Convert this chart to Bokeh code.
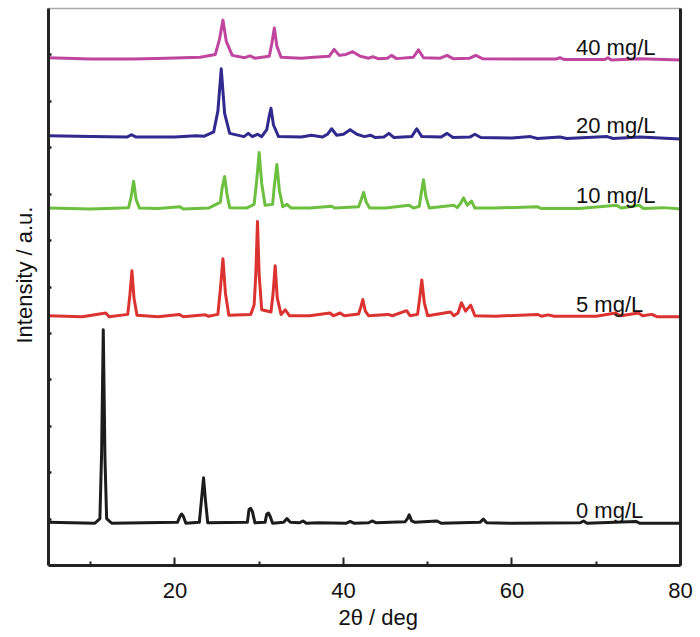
import numpy as np
from bokeh.plotting import figure
from bokeh.models import FixedTicker, LinearAxis, CustomJSTickFormatter, ColumnDataSource, Title
from bokeh.core.properties import value
from bokeh.embed import file_html
from bokeh.resources import INLINE

# ---------------- data ----------------
series_names = ["0 mg/L", "5 mg/L", "10 mg/L", "20 mg/L", "40 mg/L"]
series_colors = ["#1c1c1c", "#db3330", "#6cbf3f", "#30298e", "#c0459f"]
series_offsets = [0.91, 5.36, 7.68, 9.19, 10.89]

x_0 = [5, 10.5, 11.1, 11.3, 11.5, 11.7, 11.9, 12.5, 20.3, 20.6, 20.8, 21.0, 21.3, 22.9, 23.15, 23.4,
       23.65, 23.9, 28.6, 28.8, 29.0, 29.2, 29.5, 30.7, 30.9, 31.1, 31.3, 31.6, 32.9, 33.3, 33.7, 34.8,
       35.2, 35.6, 37, 40.3, 40.8, 41.3, 43, 43.4, 43.9, 47.3, 47.6, 47.8, 48.1, 48.5, 51.1, 51.6, 56.2,
       56.6, 57, 60, 68.1, 68.5, 68.9, 74.7, 75.2, 80]
y_0 = [0.02, 0.0, 0.1, 1.5, 4.17, 1.4, 0.1, 0.0, 0.02, 0.15, 0.2, 0.15, 0.0, 0.02, 0.5, 0.98,
       0.45, 0.01, 0.02, 0.3, 0.32, 0.25, 0.01, 0.02, 0.2, 0.22, 0.15, 0.0, 0.02, 0.1, 0.02, 0.01,
       0.05, 0.0, 0.01, 0.0, 0.04, 0.0, 0.01, 0.05, 0.01, 0.03, 0.1, 0.18, 0.05, 0.02, 0.05, 0.0, 0.02,
       0.09, 0.01, 0.0, 0.01, 0.05, 0.0, 0.04, 0.0, 0.0]

x_5 = [5, 9, 11.8, 12.2, 14.4, 14.65, 14.9, 15.15, 15.5, 18, 20.5, 21, 23.6, 24, 25.1, 25.4, 25.7,
       26.0, 26.4, 29, 29.4, 29.6, 29.8, 30.0, 30.3, 31.4, 31.65, 31.9, 32.15, 32.6, 33.1, 33.6, 36,
       38.4, 38.8, 39.6, 40.1, 41.8, 42.05, 42.3, 42.6, 43, 45.3, 45.8, 47.5, 47.9, 48.8, 49.05, 49.3,
       49.6, 50.0, 52.7, 53.1, 53.6, 54.0, 54.5, 55.1, 55.6, 58, 63, 63.5, 64.3, 65, 70, 72.3, 72.9,
       75.0, 75.5, 76.6, 77.2, 80]
y_5 = [0.02, 0.0, 0.08, 0.0, 0.05, 0.45, 0.99, 0.4, 0.03, 0.0, 0.05, 0.0, 0.04, 0.01, 0.05, 0.6, 1.25,
       0.5, 0.03, 0.05, 0.25, 0.9, 2.05, 0.9, 0.15, 0.1, 0.5, 1.1, 0.4, 0.05, 0.15, 0.02, 0.02,
       0.08, 0.02, 0.08, 0.02, 0.06, 0.2, 0.37, 0.12, 0.02, 0.05, 0.02, 0.13, 0.02, 0.05, 0.4, 0.79,
       0.3, 0.02, 0.1, 0.02, 0.08, 0.3, 0.12, 0.25, 0.02, 0.01, 0.05, 0.01, 0.04, 0.01, 0.01, 0.08, 0.02,
       0.08, 0.02, 0.05, 0.0, 0.0]

x_10 = [5, 10, 14.5, 14.8, 15.1, 15.4, 15.8, 18, 20.6, 21, 24, 25.4, 25.6, 25.9, 26.2, 26.5, 28.5,
        29.4, 29.7, 30.0, 30.3, 30.7, 31.6, 31.8, 32.1, 32.4, 32.8, 33.3, 33.8, 36, 38.6, 39, 41.8,
        42.1, 42.4, 42.7, 43.1, 45, 47.8, 48.3, 49, 49.2, 49.5, 49.8, 50.2, 53.1, 53.5, 53.9, 54.25,
        54.7, 55.2, 55.6, 58, 63, 63.5, 68, 72.4, 73, 75.1, 75.6, 78, 80]
y_10 = [0.02, 0.0, 0.03, 0.25, 0.6, 0.2, 0.02, 0.01, 0.05, 0.0, 0.02, 0.15, 0.45, 0.7, 0.3, 0.03, 0.02,
        0.1, 0.6, 1.22, 0.55, 0.08, 0.1, 0.5, 0.96, 0.4, 0.05, 0.1, 0.02, 0.02, 0.06, 0.02, 0.05,
        0.2, 0.36, 0.15, 0.02, 0.02, 0.08, 0.02, 0.06, 0.3, 0.63, 0.25, 0.02, 0.08, 0.03, 0.12, 0.24,
        0.08, 0.17, 0.02, 0.02, 0.05, 0.01, 0.01, 0.08, 0.02, 0.08, 0.01, 0.03, 0.0]

x_20 = [5, 10, 14.3, 14.85, 15.4, 20, 22.5, 23.5, 24.6, 25.1, 25.5, 25.9, 26.5, 28.2, 28.7, 29.2, 29.8,
        30.3, 30.9, 31.2, 31.4, 31.7, 32.3, 35, 36.2, 37.5, 38.1, 38.6, 39.2, 40, 40.8, 41.6, 42.5,
        43.2, 43.8, 44.8, 45.4, 46, 48.1, 48.7, 49.3, 51.6, 52.3, 53, 55, 55.6, 56.3, 60, 62.2, 63,
        65.7, 66.5, 71.3, 72, 75.2, 80]
y_20 = [0.07, 0.05, 0.04, 0.09, 0.04, 0.04, 0.07, 0.06, 0.15, 0.6, 1.51, 0.55, 0.12, 0.05, 0.12, 0.05, 0.1,
        0.05, 0.2, 0.5, 0.66, 0.3, 0.05, 0.04, 0.08, 0.04, 0.1, 0.22, 0.08, 0.1, 0.2, 0.1, 0.05,
        0.08, 0.03, 0.04, 0.12, 0.03, 0.05, 0.22, 0.05, 0.04, 0.12, 0.03, 0.04, 0.1, 0.03, 0.02, 0.05, 0.01,
        0.04, 0.01, 0.05, 0.01, 0.04, 0.0]

x_40 = [5, 10, 15, 19, 21, 23, 24.8, 25.3, 25.7, 26.1, 26.8, 28.3, 28.9, 29.5, 31.2, 31.5, 31.8, 32.1,
        32.6, 35, 36.5, 38.3, 38.9, 39.5, 40.3, 41.1, 42, 43, 43.5, 44.1, 45.2, 45.7, 46.3, 48.3, 48.9,
        49.5, 51.5, 52.3, 53, 55, 55.7, 56.5, 60, 62, 65.2, 65.7, 66.2, 71, 71.4, 71.8, 75.2, 80]
y_40 = [0.05, 0.02, 0.02, 0.04, 0.05, 0.06, 0.12, 0.45, 0.86, 0.4, 0.1, 0.05, 0.09, 0.04, 0.08, 0.35, 0.69, 0.3,
        0.06, 0.04, 0.06, 0.08, 0.23, 0.1, 0.12, 0.18, 0.08, 0.04, 0.07, 0.03, 0.04, 0.1, 0.03, 0.06, 0.22,
        0.05, 0.04, 0.1, 0.03, 0.04, 0.1, 0.03, 0.02, 0.02, 0.02, 0.05, 0.01, 0.01, 0.05, 0.0, 0.03, 0.0]

series_x = [x_0, x_5, x_10, x_20, x_40]
series_y = [y_0, y_5, y_10, y_20, y_40]

label_x = [67.6, 67.6, 67.6, 67.6, 67.6]
label_y = [1.18, 5.62, 7.97, 9.48, 11.17]

x_major_ticks = [20, 40, 60, 80]
x_minor_ticks = [10, 30, 50, 70]
y_ticks = [1, 2, 3, 4, 5, 6, 7, 8, 9, 10, 11]

x_title = "2θ / deg"
y_title = "Intensity / a.u."

FONT = "Liberation Sans"
AXC = "#232323"

# ---------------- figure ----------------
p = figure(width=696, height=637, x_range=(5, 80), y_range=(0, 12),
           output_backend="svg", toolbar_location=None,
           min_border_left=48, min_border_right=16, min_border_top=8, min_border_bottom=72)
p.background_fill_color = "white"
p.border_fill_color = "white"
p.outline_line_color = "#a8a8a8"
p.outline_line_width = 1.5
p.xgrid.visible = False
p.ygrid.visible = False

for xs, ys, off, col in zip(series_x, series_y, series_offsets, series_colors):
    yy = np.array(ys) + off
    p.line(xs, yy, line_color=col, line_width=3, line_join="round")

src = ColumnDataSource(dict(x=label_x, y=label_y, t=series_names))
p.text(x="x", y="y", text="t", source=src, text_font=value(FONT), text_font_size="22px",
       text_align="left", text_baseline="alphabetic", text_color="#111111")

# x axis
xa = p.xaxis[0]
xa.ticker = FixedTicker(ticks=x_major_ticks, minor_ticks=x_minor_ticks)
xa.axis_line_width = 3
xa.axis_line_color = AXC
xa.major_tick_in = 8
xa.major_tick_out = 0
xa.minor_tick_in = 4
xa.minor_tick_out = 0
xa.major_tick_line_width = 2
xa.minor_tick_line_width = 2
xa.major_tick_line_color = AXC
xa.minor_tick_line_color = AXC
xa.major_label_text_font = FONT
xa.major_label_text_font_size = "22px"
xa.major_label_text_color = "#111111"
xa.major_label_standoff = 17

# y axis
ya = p.yaxis[0]
ya.ticker = FixedTicker(ticks=y_ticks, minor_ticks=[])
ya.formatter = CustomJSTickFormatter(code="return ''")
ya.axis_line_width = 3
ya.axis_line_color = AXC
ya.major_tick_in = 3
ya.major_tick_out = 0
ya.major_tick_line_width = 2.5
ya.major_tick_line_color = AXC
ya.minor_tick_in = 0
ya.minor_tick_out = 0
ya.major_label_standoff = 0

# right frame line
ra = LinearAxis(ticker=FixedTicker(ticks=[], minor_ticks=[]),
                formatter=CustomJSTickFormatter(code="return ''"),
                axis_line_width=3, axis_line_color=AXC,
                major_tick_in=0, major_tick_out=0, minor_tick_in=0, minor_tick_out=0,
                major_label_standoff=0)
p.add_layout(ra, "right")

# axis titles
xt = Title(text=x_title, align="left", offset=290, text_font=FONT, text_font_size="22px",
           text_font_style="normal", text_color="#111111", standoff=5)
p.add_layout(xt, "below")
yt = Title(text=y_title, align="left", offset=222, text_font=FONT, text_font_size="22px",
           text_font_style="normal", text_color="#111111", standoff=20, vertical_align="top")
p.add_layout(yt, "left")

open("out.html", "w").write(file_html(p, INLINE))
